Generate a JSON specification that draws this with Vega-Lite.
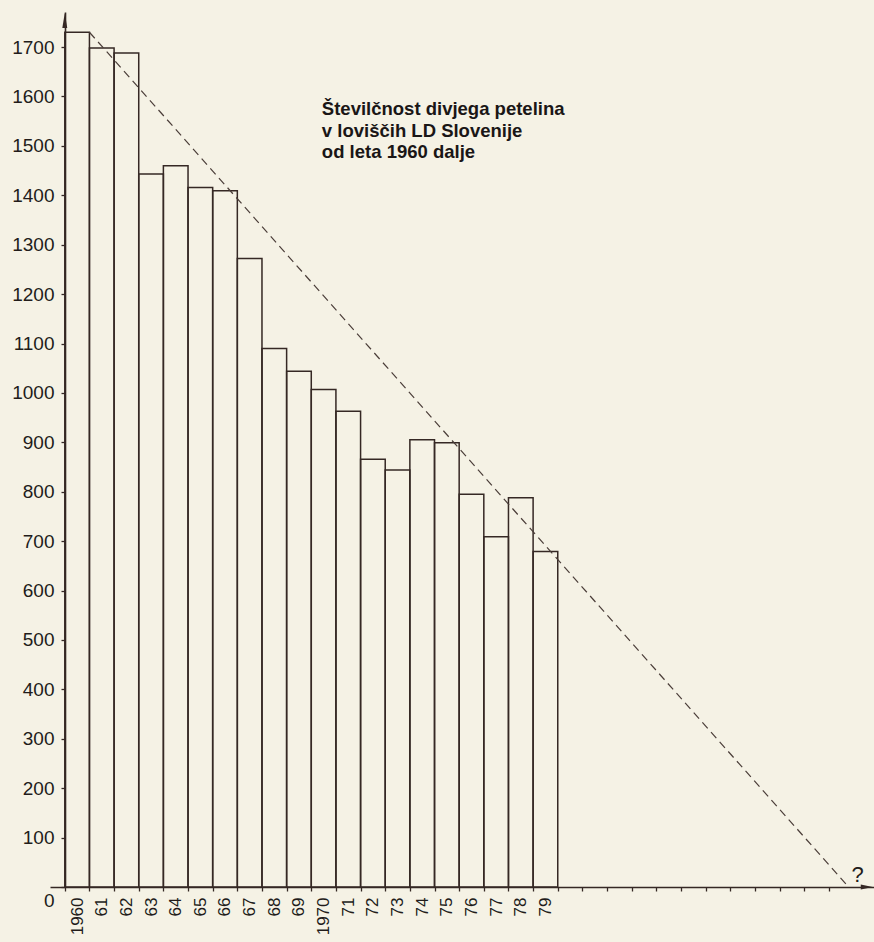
{
  "$schema": "https://vega.github.io/schema/vega-lite/v6.json",
  "autosize": "none",
  "width": 824,
  "height": 875,
  "padding": {"left": 50, "top": 12, "right": 0, "bottom": 55},
  "background": "#f5f2e5",
  "config": {"view": {"stroke": null}},
  "resolve": {"axis": {"x": "independent", "y": "independent"}},
  "datasets": {
    "counts": [
      {"year": 1960, "end": 1961, "value": 1730},
      {"year": 1961, "end": 1962, "value": 1698},
      {"year": 1962, "end": 1963, "value": 1688},
      {"year": 1963, "end": 1964, "value": 1443},
      {"year": 1964, "end": 1965, "value": 1460},
      {"year": 1965, "end": 1966, "value": 1416},
      {"year": 1966, "end": 1967, "value": 1409},
      {"year": 1967, "end": 1968, "value": 1272},
      {"year": 1968, "end": 1969, "value": 1090},
      {"year": 1969, "end": 1970, "value": 1044},
      {"year": 1970, "end": 1971, "value": 1007},
      {"year": 1971, "end": 1972, "value": 963},
      {"year": 1972, "end": 1973, "value": 866},
      {"year": 1973, "end": 1974, "value": 844},
      {"year": 1974, "end": 1975, "value": 905},
      {"year": 1975, "end": 1976, "value": 899},
      {"year": 1976, "end": 1977, "value": 795},
      {"year": 1977, "end": 1978, "value": 709},
      {"year": 1978, "end": 1979, "value": 788},
      {"year": 1979, "end": 1980, "value": 679}
    ],
    "trend": [
      {"year": 1961, "value": 1730},
      {"year": 1991.8, "value": 0}
    ]
  },
  "layer": [
    {
      "data": {"name": "counts"},
      "mark": {"type": "bar", "fill": "#f5f2e5", "fillOpacity": 0, "stroke": "#352824", "strokeWidth": 1.5},
      "encoding": {
        "x": {
          "field": "year", "type": "quantitative",
          "scale": {"domain": [1959.4, 1992.83], "nice": false, "zero": false},
          "axis": {
            "title": null,
            "orient": "bottom",
            "values": [1960,1961,1962,1963,1964,1965,1966,1967,1968,1969,1970,1971,1972,1973,1974,1975,1976,1977,1978,1979,1980,1981,1982,1983,1984,1985,1986,1987,1988,1989,1990,1991],
            "labelExpr": "datum.value > 1979 ? '' : (datum.value == 1960 || datum.value == 1970 ? '' + datum.value : substring('' + datum.value, 2))",
            "labelAngle": -90,
            "labelAlign": "right",
            "labelBaseline": "middle",
            "labelOffset": 12.3,
            "labelPadding": 6,
            "labelFont": "Liberation Sans",
            "labelFontSize": 17,
            "labelColor": "#221c1a",
            "tickSize": 4,
            "tickColor": "#352824",
            "tickWidth": 1.3,
            "domainColor": "#352824",
            "domainWidth": 1.6,
            "grid": false,
            "labelOverlap": false,
            "labelFlush": false
          }
        },
        "x2": {"field": "end"},
        "y": {
          "field": "value", "type": "quantitative",
          "scale": {"domain": [0, 1771], "nice": false},
          "axis": {
            "title": null,
            "orient": "left",
            "values": [0,100,200,300,400,500,600,700,800,900,1000,1100,1200,1300,1400,1500,1600,1700],
            "format": "d",
            "offset": -15,
            "labelFont": "Liberation Sans",
            "labelFontSize": 19,
            "labelColor": "#221c1a",
            "labelPadding": 7,
            "labelOffset": {"condition": {"test": "datum.value === 0", "value": 13}, "value": 0},
            "tickSize": 4,
            "tickColor": "#352824",
            "tickWidth": 1.3,
            "domainColor": "#352824",
            "domainWidth": 1.6,
            "grid": false,
            "labelOverlap": false,
            "labelFlush": false
          }
        },
        "y2": {"datum": 0}
      }
    },
    {
      "data": {"name": "trend"},
      "mark": {"type": "line", "stroke": "#4a3d38", "strokeWidth": 1.2, "strokeDash": [8, 5]},
      "encoding": {
        "x": {"field": "year", "type": "quantitative", "axis": null},
        "y": {"field": "value", "type": "quantitative", "axis": null}
      }
    },
    {
      "data": {"values": [{}]},
      "mark": {"type": "point", "shape": "M0,-1L0.33,1L-0.33,1Z", "filled": true, "color": "#352824", "size": 225, "opacity": 1},
      "encoding": {
        "x": {"datum": 1960, "axis": null},
        "y": {"datum": 1754, "axis": null}
      }
    },
    {
      "data": {"values": [{}]},
      "mark": {"type": "point", "shape": "M1,0L-1,-0.4L-1,0.4Z", "filled": true, "color": "#352824", "size": 144, "opacity": 1},
      "encoding": {
        "x": {"datum": 1992.535, "axis": null},
        "y": {"datum": 0, "axis": null}
      }
    },
    {
      "data": {"values": [{}]},
      "mark": {"type": "text", "text": "?", "font": "Liberation Sans", "fontSize": 22, "color": "#221c1a", "align": "center", "baseline": "alphabetic"},
      "encoding": {
        "x": {"datum": 1992.17, "axis": null},
        "y": {"datum": 10, "axis": null}
      }
    },
    {
      "data": {"values": [{}]},
      "mark": {
        "type": "text",
        "text": ["Številčnost divjega petelina", "v loviščih LD Slovenije", "od leta 1960 dalje"],
        "font": "Liberation Sans",
        "fontSize": 18.5,
        "fontWeight": "bold",
        "lineHeight": 21.5,
        "color": "#1a1616",
        "align": "left",
        "baseline": "alphabetic"
      },
      "encoding": {
        "x": {"datum": 1970.43, "axis": null},
        "y": {"datum": 1562, "axis": null}
      }
    }
  ]
}
